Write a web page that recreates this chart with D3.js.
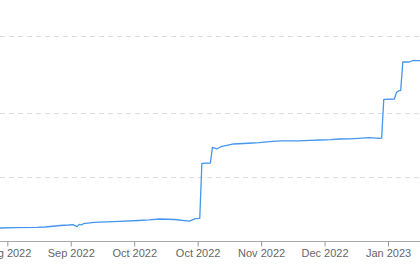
<!DOCTYPE html>
<meta charset="utf-8">
<style>
    body { margin: 0; background: #fff; }
    text {
        font-family: "Liberation Sans", Arial, sans-serif;
        font-size: 11px;
        fill: #666;
    }
    .grid line {
        stroke: #dcdcdc;
        stroke-width: 1.2px;
        stroke-dasharray: 5, 4;
    }
    .xAxis .tick line { stroke: #999; }
    .xAxis path { display: none; }
    .baseline { stroke: #aaa; stroke-width: 1px; }
    .line {
        fill: none;
        stroke: #4496ee;
        stroke-width: 1.3px;
        stroke-linejoin: round;
    }
</style>

<body>
    <svg width="420" height="280"></svg>
</body>

<script src="https://d3js.org/d3.v7.min.js"></script>
<script>

    // series (one point every few days)
    var dates = [
        "2022-07-29", "2022-08-06", "2022-08-16", "2022-08-20", "2022-08-27",
        "2022-08-31", "2022-09-02", "2022-09-04", "2022-09-05", "2022-09-06",
        "2022-09-07", "2022-09-12", "2022-09-18", "2022-09-24", "2022-10-03",
        "2022-10-08", "2022-10-13", "2022-10-20", "2022-10-27", "2022-10-30",
        "2022-11-01", "2022-11-02", "2022-11-06", "2022-11-07", "2022-11-09",
        "2022-11-11", "2022-11-17", "2022-11-24", "2022-11-29", "2022-12-04",
        "2022-12-09", "2022-12-18", "2022-12-23", "2022-12-28", "2023-01-02",
        "2023-01-06", "2023-01-11", "2023-01-15", "2023-01-20", "2023-01-25",
        "2023-01-26", "2023-01-27", "2023-02-01", "2023-02-02", "2023-02-03",
        "2023-02-04", "2023-02-05", "2023-02-08", "2023-02-10", "2023-02-12",
        "2023-02-14"
    ];
    var values = [
        20.3, 20.9, 21.4, 21.9, 24.2,
        25.0, 25.6, 22.5, 26.0, 25.0,
        27.0, 29.2, 29.8, 30.8, 32.0,
        33.0, 34.4, 33.6, 31.2, 35.0,
        35.5, 121.4, 121.9, 146.4, 143.8,
        147.3, 151.6, 152.7, 153.6, 155.2,
        156.3, 156.3, 157.2, 157.8, 158.3,
        159.4, 159.6, 160.5, 161.4, 160.5,
        160.9, 221.4, 221.9, 232.0, 234.4,
        235.2, 279.7, 279.7, 282.3, 281.7,
        282.0
    ];

    // tick labels: every 30 days, formatted by month
    var tickDates = ["2022-08-02", "2022-09-01", "2022-10-01", "2022-10-31",
                     "2022-11-30", "2022-12-30", "2023-01-29"];
    var gridValues = [100, 200, 320];

    var svg = d3.select("svg"),
        width = +svg.attr("width"),
        height = +svg.attr("height");

    var parse = d3.utcParse("%Y-%m-%d");

    var data = dates.map(function (d, i) {
        return { date: parse(d), value: values[i] };
    });

    // plot is cropped on both sides, so the scale runs past the window
    var xScale = d3.scaleUtc()
        .domain([parse(tickDates[0]), parse(tickDates[tickDates.length - 1])])
        .range([7.3, 388]);

    var yScale = d3.scaleLinear()
        .domain([0, 375])
        .range([241, 1]);

    // dashed gridlines across the whole width
    svg.append("g")
        .attr("class", "grid")
        .selectAll("line")
        .data(gridValues)
        .enter().append("line")
        .attr("x1", 0)
        .attr("x2", width)
        .attr("y1", function (d) { return Math.round(yScale(d)) + 0.5; })
        .attr("y2", function (d) { return Math.round(yScale(d)) + 0.5; });

    // baseline
    svg.append("line")
        .attr("class", "baseline")
        .attr("x1", 0)
        .attr("x2", width)
        .attr("y1", yScale(0) + 0.5)
        .attr("y2", yScale(0) + 0.5);

    var xAxis = d3.axisBottom(xScale)
        .tickValues(tickDates.map(parse))
        .tickFormat(d3.utcFormat("%b %Y"))
        .tickSize(5)
        .tickPadding(3);

    var ax = svg.append("g")
        .attr("class", "xAxis")
        .attr("transform", "translate(0," + (yScale(0) + 0.5) + ")")
        .call(xAxis);
    ax.selectAll("text").attr("font-size", null).attr("font-family", null).attr("fill", null);
    ax.selectAll(".tick line").attr("stroke", null);

    var line = d3.line()
        .x(function (d) { return xScale(d.date); })
        .y(function (d) { return yScale(d.value); });

    svg.append("path")
        .datum(data)
        .attr("class", "line")
        .attr("d", line);

</script>
